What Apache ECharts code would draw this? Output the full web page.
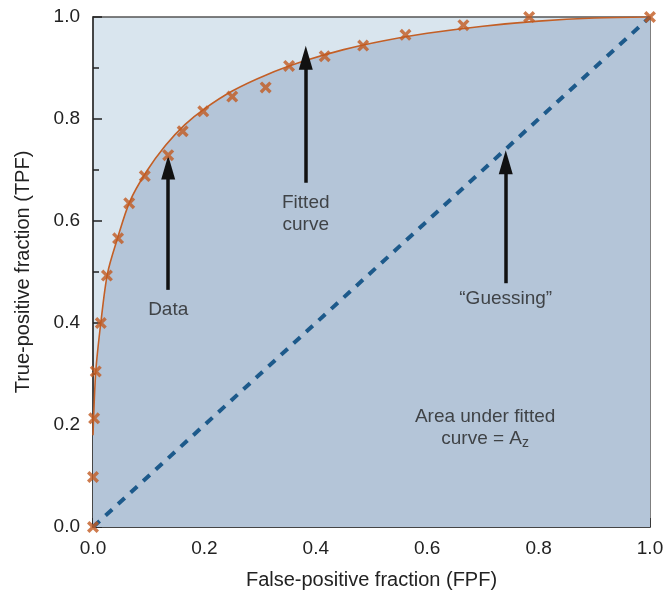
<!DOCTYPE html>
<html><head><meta charset="utf-8">
<script src="https://cdn.jsdelivr.net/npm/echarts@6/dist/echarts.min.js"></script>
<style>html,body{margin:0;padding:0;background:#fff}#c{width:667px;height:596px}</style>
</head><body><div id="c"></div>
<script>
// Observed ROC data points [FPF, TPF]
const dataFPF = [0.0, 0.0, 0.002, 0.005, 0.014, 0.025, 0.045, 0.065, 0.093, 0.135, 0.161, 0.198, 0.25, 0.31, 0.352, 0.416, 0.485, 0.561, 0.665, 0.783, 1.0];
const dataTPF = [0.0, 0.098, 0.213, 0.305, 0.40, 0.493, 0.566, 0.635, 0.688, 0.729, 0.776, 0.815, 0.844, 0.862, 0.904, 0.923, 0.944, 0.965, 0.984, 1.0, 1.0];
// Fitted curve points
const curveFPF = [0.0, 0.005, 0.014, 0.026, 0.044, 0.066, 0.096, 0.13, 0.165, 0.2, 0.25, 0.31, 0.38, 0.45, 0.52, 0.6, 0.7, 0.8, 0.9, 1.0];
const curveTPF = [0.18, 0.305, 0.40, 0.497, 0.566, 0.638, 0.697, 0.748, 0.789, 0.820, 0.855, 0.886, 0.914, 0.936, 0.953, 0.968, 0.982, 0.992, 0.998, 1.0];
// Guessing diagonal
const guessFPF = [0, 1];
const guessTPF = [0, 1];
// Annotation arrows: [x, yStart, yEnd]
const arrows = [[0.135, 0.465, 0.705], [0.382, 0.675, 0.92], [0.741, 0.478, 0.715]];
// Annotation texts: [x, y, text]
const notes = [[0.135, 0.425, 'Data'], [0.382, 0.615, 'Fitted\ncurve'], [0.741, 0.447, '\u201cGuessing\u201d'], [0.704, 0.194, 'Area under fitted\ncurve = A{s|z}']];
const xTicks = [0, 0.2, 0.4, 0.6, 0.8, 1.0];
const yTicks = [0, 0.2, 0.4, 0.6, 0.8, 1.0];

const zip = (a, b) => a.map((v, i) => [v, b[i]]);
const font = 'Liberation Sans, Arial, Helvetica, sans-serif';
const cross = 'path://M0,2 L2,0 L5,3 L8,0 L10,2 L7,5 L10,8 L8,10 L5,7 L2,10 L0,8 L3,5 Z';

const chart = echarts.init(document.getElementById('c'));
const axisCommon = {
  type: 'value', min: 0, max: 1, interval: 0.2,
  axisLine: { show: true, lineStyle: { color: '#333', width: 1.5 } },
  axisTick: { show: true, inside: true, length: 9, lineStyle: { color: '#222', width: 1.5 } },
  minorTick: { show: true, splitNumber: 2, length: 6, lineStyle: { color: '#222', width: 1.5 } },
  splitLine: { show: false },
  axisLabel: { color: '#222', fontSize: 19, fontFamily: font, formatter: v => v.toFixed(1) },
  nameTextStyle: { color: '#222', fontSize: 20, fontFamily: font }
};
chart.setOption({
  animation: false,
  grid: { left: 93, right: 17, top: 17, bottom: 69, show: true, backgroundColor: '#d9e5ee', borderColor: '#555', borderWidth: 1.5 },
  xAxis: Object.assign({}, axisCommon, { name: 'False-positive fraction (FPF)', nameLocation: 'middle', nameGap: 43,
    axisLabel: Object.assign({}, axisCommon.axisLabel, { margin: 12, customValues: xTicks }) }),
  yAxis: Object.assign({}, axisCommon, { name: 'True-positive fraction (TPF)', nameLocation: 'middle', nameGap: 60,
    axisLabel: Object.assign({}, axisCommon.axisLabel, { margin: 13, customValues: yTicks }) }),
  series: [
    { type: 'line', data: zip(curveFPF, curveTPF), smooth: 0.3, symbol: 'none', z: 2,
      lineStyle: { color: '#c35f26', width: 1.6 },
      areaStyle: { color: '#b4c5d8', opacity: 1 } },
    { type: 'line', data: zip(guessFPF, guessTPF), symbol: 'none', z: 3,
      lineStyle: { color: '#1d5a8b', width: 4, type: [9, 8] } },
    { type: 'scatter', data: zip(dataFPF, dataTPF), symbol: cross, symbolSize: 12, z: 5,
      itemStyle: { color: '#c25a20' } },
    { type: 'line', data: [], symbol: 'none', z: 4,
      markLine: { silent: true, symbol: ['none', 'triangle'], symbolSize: [14, 24],
        label: { show: false }, lineStyle: { color: '#111', width: 3.5, type: 'solid' },
        data: arrows.map(a => [{ coord: [a[0], a[1]] }, { coord: [a[0], a[2]] }]) } },
    { type: 'scatter', symbolSize: 0, z: 6,
      data: notes.map(n => ({ value: [n[0], n[1]], name: n[2] })),
      label: { show: true, position: 'inside', formatter: p => p.name, color: '#222', fontSize: 19, fontFamily: font, lineHeight: 22, align: 'center',
        rich: { s: { fontSize: 14, verticalAlign: 'bottom', padding: [10, 0, 0, 0], fontFamily: font, color: '#222' } } } }
  ]
});
</script></body></html>
